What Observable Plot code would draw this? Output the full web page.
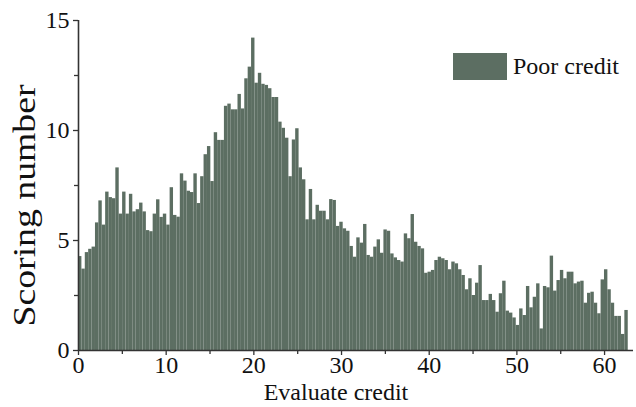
<!DOCTYPE html>
<html>
<head>
<meta charset="utf-8">
<script src="https://cdn.jsdelivr.net/npm/d3@7"></script>
<script src="https://cdn.jsdelivr.net/npm/@observablehq/plot@0.6"></script>
<style>
  html, body { margin: 0; padding: 0; background: #ffffff; }
  #chart { width: 636px; height: 407px; }
  #chart svg, #chart svg text { font-family: "Liberation Serif", "DejaVu Serif", serif !important; }
</style>
</head>
<body>
<div id="chart"></div>
<script>
// Scoring number per evaluate-credit bin (left to right)
const scores = [
  4.27, 3.7, 4.45, 4.6, 4.7, 5.8, 6.8, 5.7, 7.2, 6.95, 6.9, 8.3, 6.2, 7.2, 6.2, 7.1, 6.3, 6.4, 6.7, 6.3,
  5.45, 5.4, 6.2, 6.85, 6.05, 6.2, 5.7,
  7.4, 6.14, 6.06, 8.03, 7.7, 7.24, 7.18, 8.03, 6.68, 7.9, 8.9, 9.27, 7.68, 9.9, 9.55, 9.55, 11.1, 11.2,
  10.94, 10.94, 11.64, 10.98, 12.35, 12.88, 14.2, 12.15, 12.6,
  12.1, 12.05, 11.9, 11.5, 11.5,
  10.38, 10.1, 9.65, 7.9, 9.57, 10.08, 8.3, 7.76, 5.94, 7.32, 5.94, 6.6, 6.33, 6.33, 5.94, 6.86, 6.82,
  5.64, 5.83, 5.53, 5.42, 4.73, 4.24,
  5.12, 4.88, 5.73, 4.32, 4.24, 4.7, 5.03, 4.42, 5.48, 5.42, 4.39, 4.21, 4.09, 4.02, 5.3, 5.08, 6.18,
  4.92, 4.73, 4.62, 3.51, 3.56, 3.64, 4.09, 4.24, 4.17, 4.09,
  3.67, 4.02, 3.94, 3.67, 3.41, 2.76, 3.26, 2.5, 3.06, 3.86, 2.27, 2.27, 2.55, 2.27, 1.74, 2.58, 3.15,
  1.79, 1.7, 1.48, 1.14, 1.89, 1.59, 2.91, 1.94, 2.42, 3.03,
  0.98, 2.91, 2.85, 4.29, 2.7, 3.18, 3.64, 3.26, 3.56, 3.56, 3.03, 3.11, 3.15, 2.15, 2.6, 2.65, 2.15,
  1.67, 3.21, 3.67, 2.76, 2.15, 1.55, 1.55, 0.73, 1.82
];
const creditRange = [0, 62.7];         // evaluate-credit span covered by the bins
const xTicks = [0, 10, 20, 30, 40, 50, 60];
const xMinorTicks = [5, 15, 25, 35, 45, 55];
const yTicks = [0, 5, 10, 15];
const yMinorTicks = [2.5, 7.5, 12.5];
const seriesName = "Poor credit";
const xTitle = "Evaluate credit";
const yTitle = "Scoring number";

const binW = (creditRange[1] - creditRange[0]) / scores.length;
const bins = scores.map((v, i) => ({
  x1: creditRange[0] + i * binW,
  x2: creditRange[0] + (i + 1) * binW,
  y: v
}));

const barColor = "#5c6e62";
const axisColor = "#333333";
const font = "Liberation Serif";

const chart = Plot.plot({
  width: 636,
  height: 407,
  marginLeft: 78,
  marginRight: 3,
  marginTop: 20,
  marginBottom: 57,
  x: { domain: [0, 63.3] },
  y: { domain: [0, 15] },
  style: { fontFamily: font, fontSize: "24px", color: "#111", background: "#ffffff" },
  marks: [
    Plot.rect(bins, { x1: "x1", x2: "x2", y1: 0, y2: "y", fill: barColor }),
    Plot.ruleY([0], { stroke: axisColor, strokeWidth: 1.6 }),
    Plot.ruleX([0], { stroke: axisColor, strokeWidth: 1.6 }),
    Plot.axisX(xTicks, { tickSize: 5, tickPadding: 0, fontSize: 24, fontFamily: font, label: null, stroke: axisColor, strokeWidth: 1.3 }),
    Plot.axisX(xMinorTicks, { tickSize: 4, tickFormat: () => "", label: null, stroke: axisColor, strokeWidth: 1.3 }),
    Plot.axisY(yTicks, { tickSize: 5, tickPadding: 4, fontSize: 24, fontFamily: font, label: null, stroke: axisColor, strokeWidth: 1.3 }),
    Plot.axisY(yMinorTicks, { tickSize: 4, tickFormat: () => "", label: null, stroke: axisColor, strokeWidth: 1.3 }),
    Plot.text([xTitle], { frameAnchor: "bottom", lineAnchor: "bottom", dy: 49, dx: -20, fontSize: 24, fontFamily: font, fill: "#111" }),
    Plot.text([yTitle], { frameAnchor: "left", rotate: -90, dx: -53, dy: 20, fontSize: 31, fontFamily: font, fill: "#111" })
  ]
});

document.getElementById("chart").appendChild(chart);

const svg = d3.select(chart);
// stretch the y title to the reference's length, keeping it centred
svg.selectAll("text").filter(function () { return this.textContent === yTitle; })
  .attr("text-anchor", "start")
  .attr("x", -121)
  .attr("textLength", 242).attr("lengthAdjust", "spacingAndGlyphs");

// Legend (inside the plot, upper right)
const lg = svg.append("g").attr("class", "legend");
lg.append("rect")
  .attr("x", 453).attr("y", 53).attr("width", 54).attr("height", 27)
  .attr("fill", barColor);
lg.append("text")
  .attr("x", 513).attr("y", 74)
  .attr("text-anchor", "start")
  .attr("font-family", font).attr("font-size", 24).attr("fill", "#111")
  .text(seriesName);
</script>
</body>
</html>
